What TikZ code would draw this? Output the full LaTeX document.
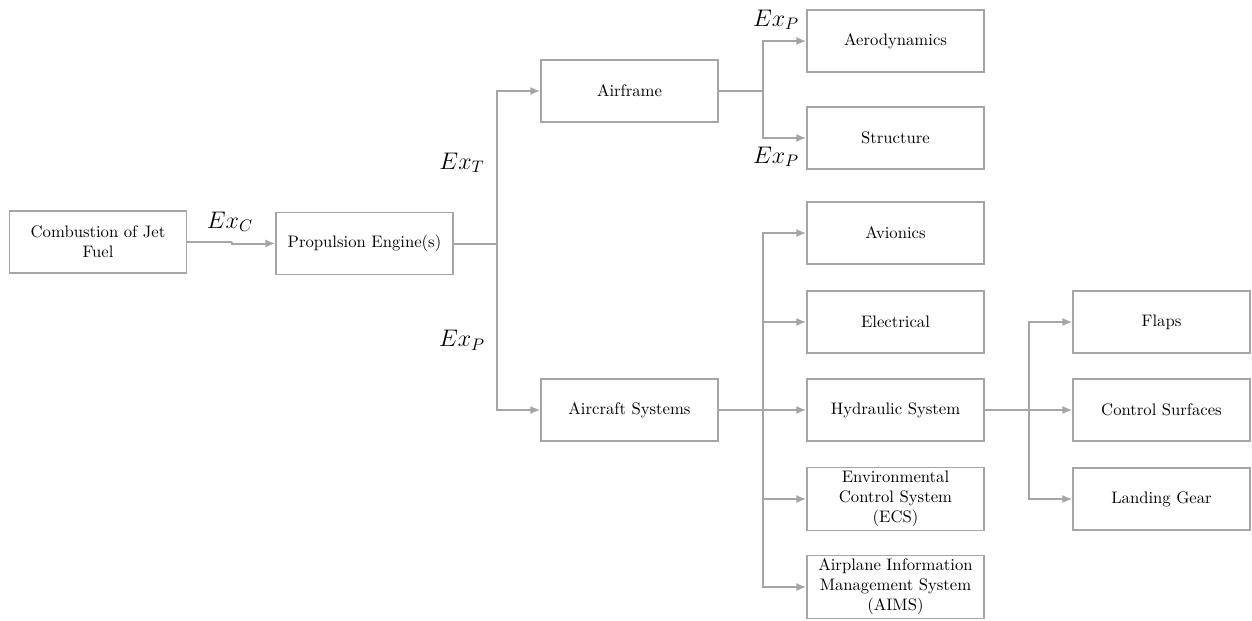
\documentclass[tikz,border=0pt]{standalone}
\usetikzlibrary{arrows.meta}
\definecolor{lgray}{RGB}{165,165,165}
\tikzset{
  box/.style={draw=lgray, line width=0.8pt, minimum width=106.2pt, minimum height=37.2pt, align=center, inner sep=2pt, font=\normalsize},
  conn/.style={draw=lgray, line width=1.2pt},
  arr/.style={conn, -{Latex[length=6pt,width=5pt]}},
  exlab/.style={font=\Large}
}
\begin{document}
\begin{tikzpicture}[x=0.6pt,y=-0.6pt]
\useasboundingbox (0,0) rectangle (1252,621);
\node[box] (comb) at (98,242) {Combustion of Jet\\Fuel};
\node[box] (prop) at (364.5,243.5) {Propulsion Engine(s)};
\node[box] (airframe) at (629.5,91) {Airframe};
\node[box] (acsys) at (629.5,410) {Aircraft Systems};
\node[box] (aero) at (895.5,41) {Aerodynamics};
\node[box] (struct) at (895.5,138) {Structure};
\node[box] (avion) at (895.5,233) {Avionics};
\node[box] (elec) at (895.5,322) {Electrical};
\node[box] (hyd) at (895.5,410) {Hydraulic System};
\node[box] (ecs) at (895.5,499) {Environmental\\Control System\\(ECS)};
\node[box] (aims) at (895.5,587) {Airplane Information\\Management System\\(AIMS)};
\node[box] (flaps) at (1161.5,322) {Flaps};
\node[box] (cs) at (1161.5,410) {Control Surfaces};
\node[box] (lg) at (1161.5,499) {Landing Gear};

\coordinate (jc) at (232,242);
\coordinate (j1) at (497,243.5);
\coordinate (j2) at (763,91);
\coordinate (j3) at (763,410);
\coordinate (j4) at (1029,410);

\draw[conn] (comb.east) -- (jc);
\draw[arr] (jc) |- (prop.west);

\draw[conn] (prop.east) -- (j1);
\draw[arr] (j1) |- (airframe.west);
\draw[arr] (j1) |- (acsys.west);

\draw[conn] (airframe.east) -- (j2);
\draw[arr] (j2) |- (aero.west);
\draw[arr] (j2) |- (struct.west);

\draw[conn] (acsys.east) -- (j3);
\draw[arr] (j3) |- (avion.west);
\draw[arr] (j3) |- (elec.west);
\draw[arr] (j3) |- (hyd.west);
\draw[arr] (j3) |- (ecs.west);
\draw[arr] (j3) |- (aims.west);

\draw[conn] (hyd.east) -- (j4);
\draw[arr] (j4) |- (flaps.west);
\draw[arr] (j4) |- (cs.west);
\draw[arr] (j4) |- (lg.west);

\node[exlab] (exc) at (230,222) {$Ex_C$};
\node[exlab] (ext) at (462,163) {$Ex_T$};
\node[exlab] (exp1) at (462,340) {$Ex_P$};
\node[exlab] (exp2) at (776,20) {$Ex_P$};
\node[exlab] (exp3) at (776,157) {$Ex_P$};
\end{tikzpicture}
\end{document}
